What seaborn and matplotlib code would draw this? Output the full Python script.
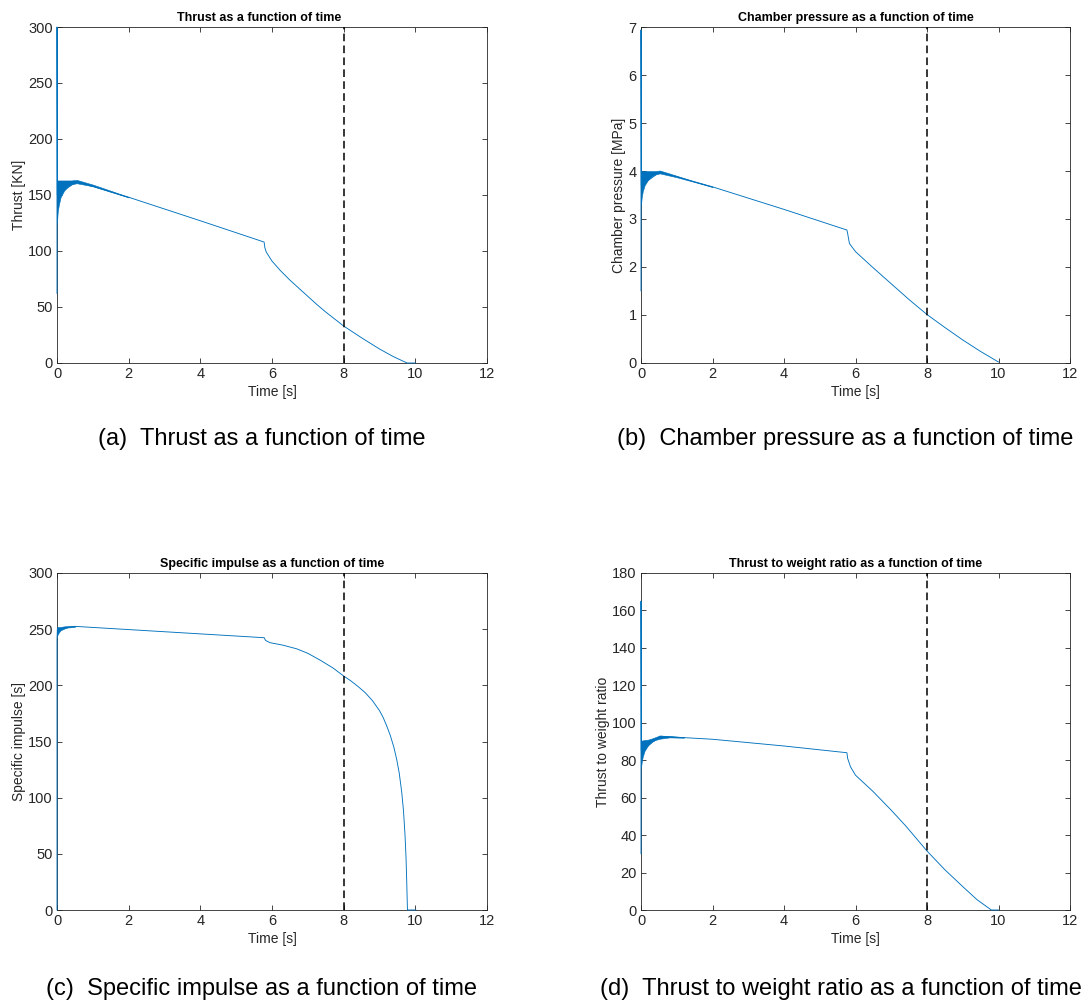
import numpy as np
import pandas as pd
import matplotlib
matplotlib.use("Agg")
import matplotlib.pyplot as plt
import seaborn as sns

# ---------------------------------------------------------------------------
# Motor performance traces (time in seconds)
# ---------------------------------------------------------------------------
thrust_t = [0.0, 0.0, 0.01, 0.55, 2.0, 4.0, 5.78, 5.80, 5.84, 6.0, 6.22, 6.5,
            7.0, 7.26, 7.5, 8.0, 8.5, 9.0, 9.4, 9.77, 10.0]
thrust_kn = [62, 300, 150, 162, 148, 127, 108, 103, 99, 91, 83, 74,
             59.5, 52, 45.5, 33, 22.5, 12.5, 5.5, 0, 0]
thrust_band_t = [0.0, 0.02, 0.05, 0.1, 0.2, 0.3, 0.4, 0.55, 1.0, 1.5, 2.0]
thrust_band_hi = [163, 163, 163, 163, 163, 163, 163, 163.5, 159.3, 153.8, 148.2]
thrust_band_lo = [125, 135, 141, 148, 154, 157.5, 159.5, 160.5, 157.8, 152.8, 147.8]

pc_t = [0.0, 0.0, 0.01, 0.53, 2.0, 4.0, 5.76, 5.78, 5.83, 6.0, 6.5, 7.0,
        7.5, 8.0, 8.5, 9.0, 9.5, 10.0]
pc_mpa = [1.5, 6.94, 3.7, 3.98, 3.67, 3.20, 2.77, 2.70, 2.49, 2.32, 1.98, 1.65,
          1.32, 1.01, 0.74, 0.48, 0.24, 0.02]
pc_band_t = [0.0, 0.02, 0.05, 0.1, 0.2, 0.3, 0.4, 0.53, 1.0, 1.5, 2.0]
pc_band_hi = [4.0, 4.0, 4.0, 4.0, 4.0, 4.0, 4.0, 4.01, 3.90, 3.78, 3.675]
pc_band_lo = [3.3, 3.45, 3.58, 3.70, 3.82, 3.89, 3.93, 3.95, 3.87, 3.77, 3.665]

isp_t = [0.0, 0.0, 0.01, 0.5, 5.78, 5.82, 5.94, 6.3, 6.69, 7.0, 7.34, 7.7,
         8.0, 8.2, 8.4, 8.6, 8.8, 9.0, 9.1, 9.2, 9.3, 9.4, 9.48, 9.55, 9.62,
         9.67, 9.71, 9.74, 9.76, 9.78, 10.02]
isp_s = [0, 240, 250, 252.5, 242.4, 240, 238, 235.8, 232.5, 228.5, 222.5, 215.5,
         208.3, 204, 199, 193.5, 186.5, 177.5, 171.5, 164, 155.5, 145, 134, 122, 105,
         88, 68, 47, 25, 0, 0]
isp_band_t = [0.0, 0.05, 0.1, 0.2, 0.3, 0.5]
isp_band_hi = [252, 252, 252, 252.5, 252.8, 253]
isp_band_lo = [244, 247, 249, 250.5, 251.5, 252]

twr_t = [0.0, 0.0, 0.01, 0.53, 2.0, 4.0, 5.76, 5.78, 5.86, 6.0, 6.48, 7.0,
         7.41, 8.0, 8.5, 9.0, 9.4, 9.8, 10.0]
twr = [30, 165, 85, 92.8, 91.2, 87.6, 84.0, 81, 76.5, 72, 63.5, 53.3,
       44.8, 31.5, 21.5, 12.5, 5.5, 0, 0]
twr_band_t = [0.0, 0.02, 0.05, 0.1, 0.2, 0.3, 0.4, 0.53, 0.8, 1.2]
twr_band_hi = [90.5, 90.5, 90.6, 90.8, 91.0, 91.6, 92.3, 93.2, 92.9, 92.3]
twr_band_lo = [76, 79, 82, 85, 88, 89.8, 90.8, 91.5, 92.2, 92.0]

burnout_time = 8.0

titles = ["Thrust as a function of time",
          "Chamber pressure as a function of time",
          "Specific impulse as a function of time",
          "Thrust to weight ratio as a function of time"]
title_x = [0.471, 0.5, 0.5, 0.5]
ylabels = ["Thrust [KN]", "Chamber pressure [MPa]",
           "Specific impulse [s]", "Thrust to weight ratio"]
captions = ["(a)  Thrust as a function of time",
            "(b)  Chamber pressure as a function of time",
            "(c)  Specific impulse as a function of time",
            "(d)  Thrust to weight ratio as a function of time"]
ylims = [(0, 300), (0, 7), (0, 300), (0, 180)]
yticks = [np.arange(0, 301, 50), np.arange(0, 8, 1),
          np.arange(0, 301, 50), np.arange(0, 181, 20)]
xticks = np.arange(0, 13, 2)

sns.set_theme(style="ticks")
plt.rcParams["font.family"] = ["Liberation Sans", "DejaVu Sans"]

LINE = "#0072BD"
GREY = "#262626"

W, H = 1081, 1001
fig = plt.figure(figsize=(W / 100, H / 100), dpi=100)

boxes = [(57, 27, 487, 363), (641, 27, 1070, 363),
         (57, 573, 487, 910), (641, 573, 1070, 910)]
series = [(thrust_t, thrust_kn, thrust_band_t, thrust_band_hi, thrust_band_lo),
          (pc_t, pc_mpa, pc_band_t, pc_band_hi, pc_band_lo),
          (isp_t, isp_s, isp_band_t, isp_band_hi, isp_band_lo),
          (twr_t, twr, twr_band_t, twr_band_hi, twr_band_lo)]

for i, (box, (t, v, bt, bhi, blo)) in enumerate(zip(boxes, series)):
    x0, y0, x1, y1 = box
    ax = fig.add_axes([x0 / W, 1 - y1 / H, (x1 - x0) / W, (y1 - y0) / H])
    df = pd.DataFrame({"t": t, "v": v})
    sns.lineplot(data=df, x="t", y="v", ax=ax, estimator=None, sort=False,
                 color=LINE, linewidth=0.65, zorder=3, clip_on=False)
    ax.fill_between(bt, blo, bhi, color=LINE, linewidth=0.4, edgecolor=LINE,
                    zorder=3, clip_on=False)
    ax.axvline(burnout_time, color="black", linewidth=1.1,
               linestyle=(0, (5, 2.8)), zorder=4)

    ax.set_xlim(0, 12)
    ax.set_ylim(*ylims[i])
    ax.set_xticks(xticks)
    ax.set_yticks(yticks[i])
    ax.set_title(titles[i], fontsize=9, fontweight="bold", pad=4.5,
                 color="black", x=title_x[i])
    ax.set_xlabel("Time [s]", fontsize=10, color=GREY, labelpad=3)
    ax.set_ylabel(ylabels[i], fontsize=10, color=GREY, labelpad=1.5)
    ax.tick_params(direction="in", length=3.5, width=0.6, colors=GREY,
                   labelsize=10.5, top=True, right=True, pad=3)
    for s in ax.spines.values():
        s.set_visible(True)
        s.set_color(GREY)
        s.set_linewidth(0.6)

cap_pos = [(262, 439), (845, 439), (262, 989), (841, 989)]
for (cx, cy), txt in zip(cap_pos, captions):
    fig.text(cx / W, 1 - cy / H, txt, ha="center", va="center",
             fontsize=17, color="black")

fig.savefig("out.png", dpi=100, facecolor="white")
